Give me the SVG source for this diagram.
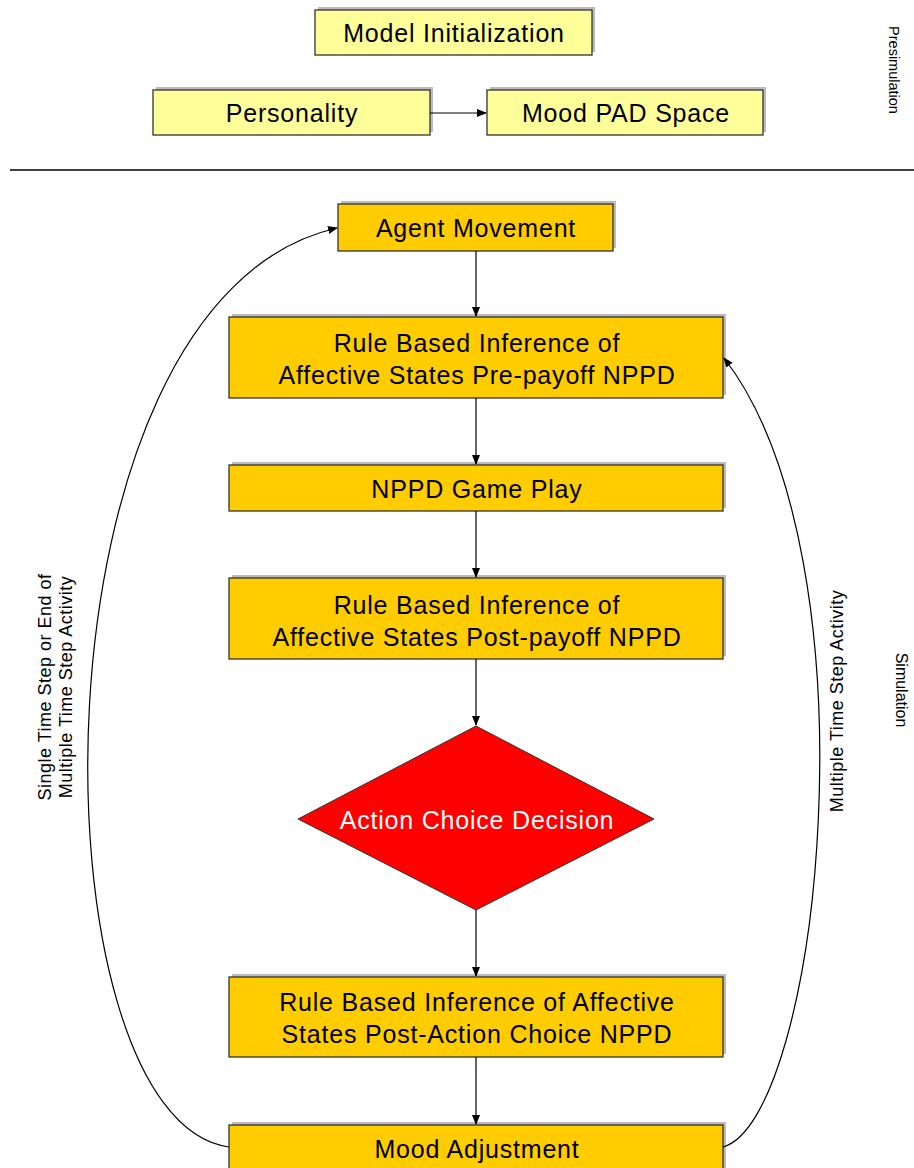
<svg xmlns="http://www.w3.org/2000/svg" width="914" height="1168" viewBox="0 0 914 1168">
<style>
.lt{fill:#FFFF99;stroke:#333;stroke-width:1.3}
.or{fill:#FFCC00;stroke:#333;stroke-width:1.3}
.sh{fill:#BBBBBB}
.t{font-family:"Liberation Sans",Arial,sans-serif;font-size:25px;letter-spacing:0.8px;fill:#000;text-anchor:middle}
.w{fill:#fff}
.s{font-family:"Liberation Sans",Arial,sans-serif;font-size:18px;letter-spacing:0.5px;fill:#000;text-anchor:middle}
.c{fill:none;stroke:#000;stroke-width:1.2}
</style>
<defs>
<marker id="ah" markerWidth="10" markerHeight="10" refX="9" refY="5" orient="auto" markerUnits="userSpaceOnUse">
<path d="M0,1 L10,5 L0,9 Z" fill="#000"/>
</marker>
</defs>
<rect width="914" height="1168" fill="#fff"/>
<line x1="10" y1="170" x2="914" y2="170" stroke="#000" stroke-width="1.5"/>
<text class="s" style="font-size:14.5px;letter-spacing:0" transform="translate(894,70) rotate(90)" dy="5">Presimulation</text>
<text class="s" style="font-size:16px;letter-spacing:0" transform="translate(901,690) rotate(90)" dy="5">Simulation</text>

<g id="model-init"><rect class="sh" x="318" y="7" width="277" height="45"/><rect class="lt" x="315" y="10" width="277" height="45"/><text class="t" x="454" y="42">Model Initialization</text></g>
<g id="personality"><rect class="sh" x="156" y="87" width="277" height="45"/><rect class="lt" x="153" y="90" width="277" height="45"/><text class="t" x="292" y="122">Personality</text></g>
<g id="mood-pad"><rect class="sh" x="490" y="87" width="276" height="45"/><rect class="lt" x="487" y="90" width="276" height="45"/><text class="t" x="626" y="122">Mood PAD Space</text></g>

<g id="agent-movement"><rect class="sh" x="341" y="201" width="275" height="47"/><rect class="or" x="338" y="204" width="275" height="47"/><text class="t" x="476" y="237">Agent Movement</text></g>
<g id="rule-pre"><rect class="sh" x="232" y="314" width="494" height="81"/><rect class="or" x="229" y="317" width="494" height="81"/><text class="t" x="477" y="352">Rule Based Inference of</text><text class="t" x="477" y="384">Affective States Pre-payoff NPPD</text></g>
<g id="game-play"><rect class="sh" x="232" y="462" width="494" height="46"/><rect class="or" x="229" y="465" width="494" height="46"/><text class="t" x="477" y="498">NPPD Game Play</text></g>
<g id="rule-post"><rect class="sh" x="232" y="575" width="494" height="81"/><rect class="or" x="229" y="578" width="494" height="81"/><text class="t" x="477" y="614">Rule Based Inference of</text><text class="t" x="477" y="646">Affective States Post-payoff NPPD</text></g>
<g id="decision"><polygon points="476,726 654,819 476,910 298,819" fill="#FF0000" stroke="#333" stroke-width="1"/><text class="t w" x="477" y="829">Action Choice Decision</text></g>
<g id="rule-action"><rect class="sh" x="232" y="974" width="494" height="80"/><rect class="or" x="229" y="977" width="494" height="80"/><text class="t" x="477" y="1011">Rule Based Inference of Affective</text><text class="t" x="477" y="1043">States Post-Action Choice NPPD</text></g>
<g id="mood-adjust"><rect class="sh" x="232" y="1122" width="494" height="52"/><rect class="or" x="229" y="1125" width="494" height="52"/><text class="t" x="477" y="1158">Mood Adjustment</text></g>

<g id="connectors">
<line class="c" x1="430" y1="113" x2="486" y2="113" marker-end="url(#ah)"/>
<line class="c" x1="476" y1="251" x2="476" y2="316" marker-end="url(#ah)"/>
<line class="c" x1="476" y1="398" x2="476" y2="464" marker-end="url(#ah)"/>
<line class="c" x1="476" y1="511" x2="476" y2="577" marker-end="url(#ah)"/>
<line class="c" x1="476" y1="659" x2="476" y2="725" marker-end="url(#ah)"/>
<line class="c" x1="476" y1="910" x2="476" y2="976" marker-end="url(#ah)"/>
<line class="c" x1="476" y1="1057" x2="476" y2="1124" marker-end="url(#ah)"/>
<path class="c" d="M229,1147 C30,1120 20,300 337,228" marker-end="url(#ah)"/>
<path class="c" d="M723,1147 C820,1120 880,560 724,358" marker-end="url(#ah)"/>
</g>
<text class="s" transform="translate(51,687) rotate(-90)">Single Time Step or End of</text>
<text class="s" transform="translate(72,687) rotate(-90)">Multiple Time Step Activity</text>
<text class="s" transform="translate(843,701) rotate(-90)">Multiple Time Step Activity</text>
</svg>
